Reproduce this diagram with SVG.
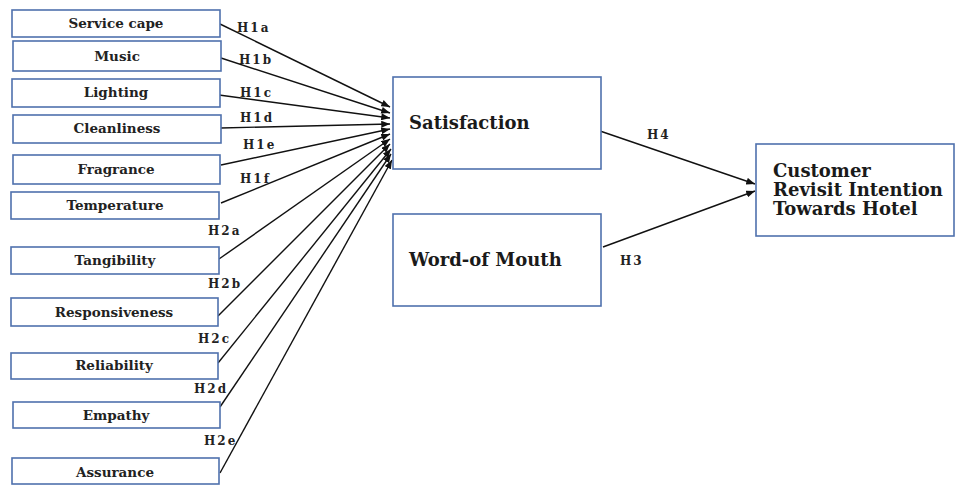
<svg xmlns="http://www.w3.org/2000/svg" width="955" height="485" viewBox="0 0 955 485">
<style>
.box{fill:#fff;stroke:#4f71ad;stroke-width:1.6}
.t{font-family:"DejaVu Serif","Liberation Serif",serif;font-size:13.5px;font-weight:bold;fill:#222;text-anchor:middle}
.big{font-family:"DejaVu Serif","Liberation Serif",serif;font-size:18px;font-weight:bold;fill:#1a1a1a}
.lab{font-family:"DejaVu Serif","Liberation Serif",serif;font-size:12px;font-weight:bold;fill:#222;letter-spacing:2px}
.c{stroke:#111;stroke-width:1.4;fill:none;marker-end:url(#ah)}
</style>
<defs>
<marker id="ah" viewBox="0 0 10 8" refX="10" refY="4" markerWidth="9" markerHeight="7" markerUnits="userSpaceOnUse" orient="auto">
<path d="M0,0 L10,4 L0,8 Z" fill="#111"/>
</marker>
</defs>
<rect width="955" height="485" fill="#fff"/>
<g id="connectors">
<line class="c" x1="220" y1="24" x2="390" y2="107"/>
<line class="c" x1="221" y1="58" x2="390" y2="113"/>
<line class="c" x1="219" y1="95" x2="390" y2="118"/>
<line class="c" x1="221" y1="128" x2="390" y2="124"/>
<line class="c" x1="221" y1="165" x2="390" y2="129"/>
<line class="c" x1="221" y1="203" x2="390" y2="134"/>
<line class="c" x1="219" y1="259" x2="390" y2="139"/>
<line class="c" x1="218" y1="316" x2="390" y2="144"/>
<line class="c" x1="218" y1="363" x2="391" y2="149"/>
<line class="c" x1="220" y1="407" x2="391" y2="154"/>
<line class="c" x1="220" y1="473" x2="392" y2="160"/>
<line class="c" x1="600" y1="131" x2="755" y2="184"/>
<line class="c" x1="603" y1="247" x2="755" y2="191"/>
<text class="lab" x="237" y="32">H1a</text>
<text class="lab" x="239" y="64">H1b</text>
<text class="lab" x="240" y="97">H1c</text>
<text class="lab" x="240" y="122">H1d</text>
<text class="lab" x="243" y="149">H1e</text>
<text class="lab" x="240" y="183">H1f</text>
<text class="lab" x="208" y="235">H2a</text>
<text class="lab" x="208" y="288">H2b</text>
<text class="lab" x="198" y="343">H2c</text>
<text class="lab" x="194" y="393">H2d</text>
<text class="lab" x="204" y="445">H2e</text>
<text class="lab" x="647" y="139">H4</text>
<text class="lab" x="620" y="265">H3</text>
</g>
<g id="service-cape"><rect class="box" x="12" y="10" width="208" height="27"/><text class="t" x="116" y="28">Service cape</text></g>
<g id="music"><rect class="box" x="13" y="41" width="208" height="30"/><text class="t" x="117" y="61">Music</text></g>
<g id="lighting"><rect class="box" x="12" y="79" width="208" height="28"/><text class="t" x="116" y="97">Lighting</text></g>
<g id="cleanliness"><rect class="box" x="13" y="115" width="208" height="28"/><text class="t" x="117" y="133">Cleanliness</text></g>
<g id="fragrance"><rect class="box" x="13" y="155" width="207" height="29"/><text class="t" x="116" y="174">Fragrance</text></g>
<g id="temperature"><rect class="box" x="11" y="192" width="208" height="27"/><text class="t" x="115" y="210">Temperature</text></g>
<g id="tangibility"><rect class="box" x="11" y="247" width="208" height="27"/><text class="t" x="115" y="265">Tangibility</text></g>
<g id="responsiveness"><rect class="box" x="11" y="298" width="207" height="28"/><text class="t" x="114" y="317">Responsiveness</text></g>
<g id="reliability"><rect class="box" x="11" y="353" width="207" height="26"/><text class="t" x="114" y="370">Reliability</text></g>
<g id="empathy"><rect class="box" x="13" y="402" width="207" height="26"/><text class="t" x="116" y="420">Empathy</text></g>
<g id="assurance"><rect class="box" x="12" y="458" width="207" height="26"/><text class="t" x="115" y="477">Assurance</text></g>
<g id="satisfaction"><rect class="box" x="393" y="77" width="208" height="92"/><text class="big" x="409" y="129">Satisfaction</text></g>
<g id="word-of-mouth"><rect class="box" x="393" y="214" width="208" height="92"/><text class="big" x="409" y="266">Word-of Mouth</text></g>
<g id="customer-revisit"><rect class="box" x="756" y="144" width="198" height="92"/><text class="big" x="773" y="177">Customer</text><text class="big" x="773" y="196">Revisit Intention</text><text class="big" x="773" y="215">Towards Hotel</text></g>
</svg>
